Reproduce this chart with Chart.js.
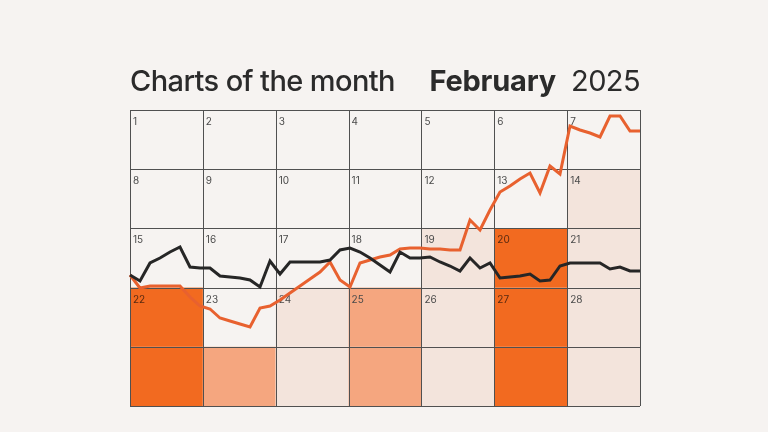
<!DOCTYPE html>
<html lang="en">
<head>
<meta charset="UTF-8">
<title>Charts of the month</title>
<script src="https://cdn.jsdelivr.net/npm/chart.js"></script>
<style>
    html, body { margin: 0; padding: 0; background: #f6f3f1; }
    #wrap { position: relative; width: 768px; height: 432px; }
    canvas { position: absolute; left: 0; top: 0; }
    .head { position: absolute; top: 63px; font-family: Inter, "Open Sans", sans-serif; font-size: 29px; color: #2b2b2b; letter-spacing: -0.6px; white-space: nowrap; }
</style>
<script>
    // two index series, one reading every ~10px across the month grid
    const orangeSeries = [65.5, 59, 60, 60, 60, 60, 54.5, 50, 48.5, 44, 42.5, 41, 39.5, 49, 50, 53, 56.5, 60, 63.5, 67,
        72, 63, 59.5, 71.5, 73, 74.5, 75.5, 78.5, 79, 79, 78.5, 78.5, 78, 78, 93, 88, 98, 107, 110, 113.5,
        116.5, 106.5, 120, 116, 140, 138, 136.5, 134.5, 145, 145, 137.5, 137.5];
    const blackSeries = [65.5, 62.5, 71.5, 74, 77, 79.5, 69.5, 69, 69, 65, 64.5, 64, 63, 59.5, 72.5, 66, 72, 72, 72, 72,
        73, 78, 79, 77, 74, 70.5, 67, 77, 74, 74, 74.5, 72, 70, 67.5, 74, 69, 71.5, 64, 64.5, 65,
        66, 62.5, 63, 70, 71.5, 71.5, 71.5, 71.5, 68.5, 69.5, 67.5, 67.5];

    // calendar: 5 week rows, 7 day columns
    const weekRows = 5;
    const dayCols = 7;
    const daysInMonth = 28;
    // shade level per cell: 0 none, 1 light, 2 medium, 3 strong
    const cellShades = [
        [0, 0, 0, 0, 0, 0, 0],
        [0, 0, 0, 0, 0, 0, 1],
        [0, 0, 0, 0, 1, 3, 1],
        [3, 0, 1, 2, 1, 3, 1],
        [3, 2, 1, 2, 1, 3, 1]
    ];
    const shadeColors = [null, '#f3e4dc', '#f5a67f', '#f26a20'];

    const calendarPlugin = {
        id: 'calendar',
        beforeDatasetsDraw(chart) {
            const ctx = chart.ctx;
            const gx = chart.scales.gx, gy = chart.scales.gy;
            ctx.save();
            for (let r = 0; r < weekRows; r++) {
                for (let c = 0; c < dayCols; c++) {
                    const shade = cellShades[r][c];
                    if (!shade) continue;
                    const x0 = gx.getPixelForValue(c), x1 = gx.getPixelForValue(c + 1);
                    const y0 = gy.getPixelForValue(r), y1 = gy.getPixelForValue(r + 1);
                    ctx.fillStyle = shadeColors[shade];
                    ctx.fillRect(x0, y0, x1 - x0, y1 - y0);
                }
            }
            // grid lines
            ctx.strokeStyle = '#505050';
            ctx.lineWidth = 1;
            ctx.beginPath();
            for (let c = 0; c <= dayCols; c++) {
                const x = Math.round(gx.getPixelForValue(c)) + 0.5;
                ctx.moveTo(x, gy.getPixelForValue(0));
                ctx.lineTo(x, gy.getPixelForValue(weekRows));
            }
            for (let r = 0; r <= weekRows; r++) {
                const y = Math.round(gy.getPixelForValue(r)) + 0.5;
                ctx.moveTo(gx.getPixelForValue(0), y);
                ctx.lineTo(gx.getPixelForValue(dayCols), y);
            }
            ctx.stroke();
            // day numbers
            ctx.font = '10px Inter, "Open Sans", sans-serif';
            ctx.textBaseline = 'top';
            for (let d = 1; d <= daysInMonth; d++) {
                const r = Math.floor((d - 1) / dayCols), c = (d - 1) % dayCols;
                ctx.fillStyle = cellShades[r][c] === 3 ? '#5a2a10' : '#4a4a4a';
                ctx.fillText(String(d), gx.getPixelForValue(c) + 3, gy.getPixelForValue(r) + 7);
            }
            ctx.restore();
        }
    };

    document.addEventListener('DOMContentLoaded', function () {
        const ctx = document.getElementById('calendarChart').getContext('2d');
        const labels = orangeSeries.map((v, i) => i);
        new Chart(ctx, {
            type: 'line',
            data: {
                labels: labels,
                datasets: [{
                    label: 'Black',
                    data: blackSeries,
                    borderColor: '#262626',
                    borderWidth: 3,
                    pointRadius: 0,
                    tension: 0,
                    order: 1
                }, {
                    label: 'Orange',
                    data: orangeSeries,
                    borderColor: '#e8612f',
                    borderWidth: 3,
                    pointRadius: 0,
                    tension: 0,
                    order: 2
                }]
            },
            options: {
                responsive: false,
                animation: false,
                layout: { padding: { left: 130, right: 128, top: 110, bottom: 26 } },
                plugins: { legend: { display: false }, tooltip: { enabled: false } },
                scales: {
                    x: { type: 'linear', min: 0, max: orangeSeries.length - 1, display: false },
                    y: { min: 0, max: 148, display: false },
                    gx: { type: 'linear', axis: 'x', position: 'bottom', min: 0, max: dayCols, display: false },
                    gy: { type: 'linear', axis: 'y', position: 'left', min: 0, max: weekRows, reverse: true, display: false }
                },
                clip: false
            },
            plugins: [calendarPlugin]
        });
    });
</script>
</head>
<body>
<div id="wrap">
    <canvas id="calendarChart" width="768" height="432"></canvas>
    <div class="head" style="left:130px; font-weight:500;">Charts of the month</div>
    <div class="head" style="right:128px;"><span style="font-weight:700; letter-spacing:-0.2px;">February</span>&nbsp; <span style="font-weight:400;">2025</span></div>
</div>
</body>
</html>
